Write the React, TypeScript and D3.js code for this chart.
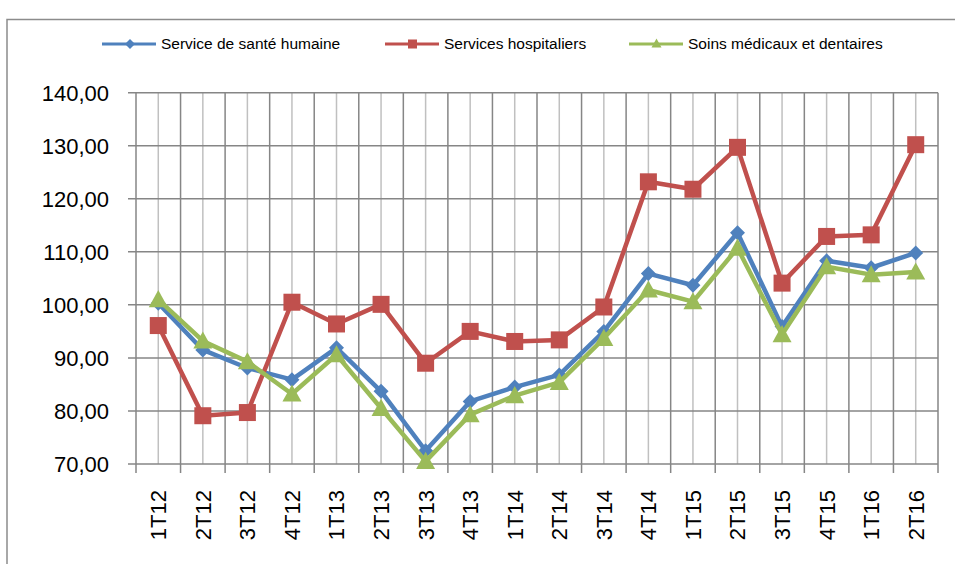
import React from "react";
import * as d3 from "d3";

const categories = ["1T12","2T12","3T12","4T12","1T13","2T13","3T13","4T13","1T14","2T14","3T14","4T14","1T15","2T15","3T15","4T15","1T16","2T16"];
const santeHumaine = [100.3, 91.5, 88.1, 85.9, 91.9, 83.7, 72.5, 81.8, 84.5, 86.8, 95.0, 105.9, 103.7, 113.6, 95.9, 108.3, 107.0, 109.8];
const hospitaliers = [96.1, 79.1, 79.7, 100.5, 96.4, 100.1, 89.0, 95.0, 93.1, 93.4, 99.6, 123.2, 121.8, 129.7, 104.1, 112.9, 113.2, 130.2];
const soinsMedicaux = [101.0, 93.2, 89.3, 83.2, 90.6, 80.5, 70.5, 79.3, 82.9, 85.4, 93.7, 102.8, 100.6, 110.7, 94.4, 107.2, 105.7, 106.2];
const yTicks = [70, 80, 90, 100, 110, 120, 130, 140];
const seriesNames = ["Service de santé humaine", "Services hospitaliers", "Soins médicaux et dentaires"];

const W = 955, H = 564;
const left = 136, right = 938, top = 92.7, bottom = 464;
const colors = ["#4F81BD", "#C0504D", "#9BBB59"];
const font = "'Liberation Sans', Arial, sans-serif";

function Marker({ kind, x, y, color }: { kind: number; x: number; y: number; color: string }) {
  if (kind === 0) {
    const s = 7.5;
    return <path d={`M${x},${y - s}L${x + s},${y}L${x},${y + s}L${x - s},${y}Z`} fill={color} />;
  }
  if (kind === 1) {
    const s = 8.5;
    return <rect x={x - s} y={y - s} width={2 * s} height={2 * s} fill={color} />;
  }
  const s = 9.5;
  return <path d={`M${x},${y - s}L${x + s},${y + s * 0.8}L${x - s},${y + s * 0.8}Z`} fill={color} />;
}

export default function App() {
  const x = d3.scaleBand<string>().domain(categories).range([left, right]);
  const y = d3.scaleLinear().domain([70, 140]).range([bottom, top]);
  const cx = (c: string) => (x(c) as number) + x.bandwidth() / 2;
  const allSeries = [santeHumaine, hospitaliers, soinsMedicaux];
  const line = d3.line<number>().x((_, i) => cx(categories[i])).y((v) => y(v));
  const boundaries = categories.map((c) => x(c) as number).concat([right]);
  const legendX = [102, 385, 629];

  return (
    <svg width={W} height={H} style={{ position: "absolute", left: 0, top: 0, background: "#fff" }} fontFamily={font}>
      <rect x={7} y={19.5} width={1000} height={600} fill="#fff" stroke="#8c8c8c" strokeWidth={1.5} />
      {categories.map((c) => (
        <line key={"m" + c} x1={cx(c)} x2={cx(c)} y1={top} y2={bottom} stroke="#c0c0c0" strokeWidth={1.5} />
      ))}
      {yTicks.map((t) => (
        <line key={"h" + t} x1={left - 8} x2={right} y1={y(t)} y2={y(t)} stroke="#868686" strokeWidth={1.5} />
      ))}
      {boundaries.map((b, i) => (
        <line key={"b" + i} x1={b} x2={b} y1={top} y2={bottom + 9} stroke="#868686" strokeWidth={1.5} />
      ))}
      {yTicks.map((t) => (
        <text key={"yt" + t} x={109} y={y(t)} dy="0.36em" textAnchor="end" fontSize={22} fill="#000">
          {d3.format(".2f")(t).replace(".", ",")}
        </text>
      ))}
      {categories.map((c) => (
        <text key={"xt" + c} transform={`translate(${cx(c)},${bottom + 26}) rotate(-90)`} dy="0.36em" textAnchor="end" fontSize={22} fill="#000">
          {c}
        </text>
      ))}
      {allSeries.map((s, k) => (
        <g key={"s" + k}>
          <path d={line(s) || ""} fill="none" stroke={colors[k]} strokeWidth={4.5} strokeLinejoin="round" />
          {s.map((v, i) => (
            <Marker key={i} kind={k} x={cx(categories[i])} y={y(v)} color={colors[k]} />
          ))}
        </g>
      ))}
      {seriesNames.map((n, k) => (
        <g key={"l" + k}>
          <line x1={legendX[k]} x2={legendX[k] + 54} y1={44} y2={44} stroke={colors[k]} strokeWidth={3} />
          {k === 0 && <path d={`M${legendX[k] + 28},39L${legendX[k] + 33},44L${legendX[k] + 28},49L${legendX[k] + 23},44Z`} fill={colors[k]} />}
          {k === 1 && <rect x={legendX[k] + 23} y={39.5} width={9} height={9} fill={colors[k]} />}
          {k === 2 && <path d={`M${legendX[k] + 27.5},38.5L${legendX[k] + 32.5},47.5L${legendX[k] + 22.5},47.5Z`} fill={colors[k]} />}
          <text x={legendX[k] + 59} y={43.5} dy="0.36em" fontSize={15.5} fill="#000">{n}</text>
        </g>
      ))}
    </svg>
  );
}
